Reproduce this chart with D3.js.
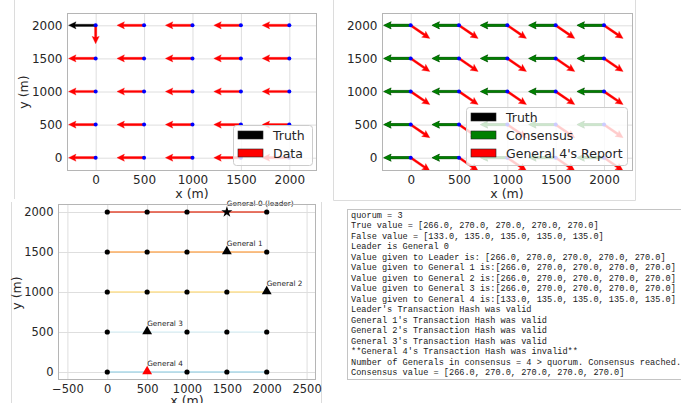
<!DOCTYPE html>
<html>
<head>
<meta charset="utf-8">
<script src="https://cdn.jsdelivr.net/npm/d3@7"></script>
<style>
  body { margin: 0; background: #fff; }
  text { font-family: "DejaVu Sans", sans-serif; fill: #262626; }
  .log text { font-family: "Liberation Mono", monospace; fill: #1a1a1a; white-space: pre; }
</style>
</head>
<body>
<svg id="fig" width="681" height="403"></svg>
<script>
// station grid (m)
const gridX = [0, 500, 1000, 1500, 2000];
const gridY = [0, 500, 1000, 1500, 2000];

// headings in degrees (compass)
const trueValue = [266.0, 270.0, 270.0, 270.0, 270.0];
const falseValue = [133.0, 135.0, 135.0, 135.0, 135.0];
const consensusValue = [266.0, 270.0, 270.0, 270.0, 270.0];

// top-left: one truth arrow + the data headings, one row per gridY
const truthPoint = [0, 2000];
const truthHeading = 270;
const dataHeadings = [
  [270, 270, 270, 270, 270],
  [270, 270, 270, 270, 270],
  [270, 270, 270, 270, 270],
  [270, 270, 270, 270, 270],
  [180, 270, 270, 270, 270]
];
const arrowLen = 280;

// bottom-left: generals
const generalNames = ['General 0 (leader)', 'General 1', 'General 2', 'General 3', 'General 4'];
const generalX = [1500, 1500, 2000, 500, 500];
const generalY = [2000, 1500, 1000, 500, 0];
const quorum = 3;
const inConsensus = 4;

// tick labels
const xTicksTop = [0, 500, 1000, 1500, 2000];
const yTicks = [0, 500, 1000, 1500, 2000];
const xTicksBottom = [-500, 0, 500, 1000, 1500, 2000, 2500];

const rowColors = ['#abd9e9', '#e0f3f8', '#fee090', '#fdae61', '#e34a33'];

const svg = d3.select('#fig');
let clipN = 0;
const tickFmt = d => (d < 0 ? '\u2212' : '') + Math.abs(d);

function panel(o) {
  const x = d3.scaleLinear().domain(o.xd).range([o.l, o.r]);
  const y = d3.scaleLinear().domain(o.yd).range([o.b, o.t]);
  const id = 'clip' + (clipN++);
  svg.append('clipPath').attr('id', id)
    .append('rect').attr('x', o.l).attr('y', o.t).attr('width', o.r - o.l).attr('height', o.b - o.t);

  // grid
  const grid = svg.append('g');
  grid.append('g').attr('transform', `translate(0,${o.b})`)
    .call(d3.axisBottom(x).tickValues(o.xt).tickSize(-(o.b - o.t)).tickFormat(''));
  grid.append('g').attr('transform', `translate(${o.l},0)`)
    .call(d3.axisLeft(y).tickValues(o.yt).tickSize(-(o.r - o.l)).tickFormat(''));
  grid.selectAll('.domain').remove();
  grid.selectAll('line').attr('stroke', '#dedede').attr('stroke-width', 1);

  // tick labels
  const xa = svg.append('g').attr('transform', `translate(0,${o.b})`)
    .call(d3.axisBottom(x).tickValues(o.xt).tickFormat(tickFmt).tickSize(0).tickPadding(4.5));
  const ya = svg.append('g').attr('transform', `translate(${o.l},0)`)
    .call(d3.axisLeft(y).tickValues(o.yt).tickFormat(tickFmt).tickSize(0).tickPadding(4.5));
  [xa, ya].forEach(a => {
    a.select('.domain').remove();
    a.selectAll('text').attr('font-size', o.fs).attr('fill', '#262626')
      .attr('font-family', '"DejaVu Sans", sans-serif');
  });

  const plot = svg.append('g').attr('clip-path', `url(#${id})`);
  return { x, y, plot, o };
}

function frame(p) {
  const o = p.o;
  svg.append('rect').attr('x', o.l + 0.5).attr('y', o.t + 0.5)
    .attr('width', o.r - o.l - 1).attr('height', o.b - o.t - 1)
    .attr('fill', 'none').attr('stroke', '#b5b5b5').attr('stroke-width', 1);
}

function arrow(p, px, py, heading, color) {
  const r = heading * Math.PI / 180;
  const x0 = p.x(px), y0 = p.y(py);
  const x1 = p.x(px + arrowLen * Math.sin(r)), y1 = p.y(py + arrowLen * Math.cos(r));
  const L = Math.hypot(x1 - x0, y1 - y0);
  const ux = (x1 - x0) / L, uy = (y1 - y0) / L, nx = -uy, ny = ux;
  const w = 1.1, hw = 3.6, hl = 7.5, hal = 6.5;
  const pt = (a, b) => [x0 + ux * a + nx * b, y0 + uy * a + ny * b];
  const pts = [pt(0, w), pt(L - hal, w), pt(L - hl, hw), pt(L, 0), pt(L - hl, -hw), pt(L - hal, -w), pt(0, -w)];
  p.plot.append('path').attr('d', 'M' + pts.map(q => q.join(',')).join('L') + 'Z')
    .attr('fill', color).attr('stroke', color).attr('stroke-width', 0.3);
}

function dots(p) {
  gridY.forEach(gy => gridX.forEach(gx => {
    p.plot.append('circle').attr('cx', p.x(gx)).attr('cy', p.y(gy)).attr('r', 2).attr('fill', '#0000ff');
  }));
}

function legend(x, y, w, h, items) {
  const g = svg.append('g');
  g.append('rect').attr('x', x + 0.5).attr('y', y + 0.5).attr('width', w).attr('height', h)
    .attr('rx', 3).attr('fill', '#fff').attr('fill-opacity', 0.8).attr('stroke', '#cccccc');
  items.forEach((it, i) => {
    const cy = y + 10 + i * 18;
    g.append('rect').attr('x', x + 5).attr('y', cy - 4).attr('width', 25).attr('height', 8)
      .attr('fill', it.color).attr('stroke', '#222').attr('stroke-width', 0.6);
    g.append('text').attr('x', x + 40).attr('y', cy + 4.6).attr('font-size', 12.5).text(it.label);
  });
}

function screenEdge(x1, y1, x2, y2) {
  svg.append('line').attr('x1', x1).attr('y1', y1).attr('x2', x2).attr('y2', y2)
    .attr('stroke', '#dcdcdc').attr('stroke-width', 1);
}

// screenshot edges
screenEdge(14.5, 0, 14.5, 199);
screenEdge(333.5, 0, 333.5, 200.5);
screenEdge(635.5, 0, 635.5, 200.5);
screenEdge(333.5, 200.5, 635.5, 200.5);
screenEdge(11.5, 202, 11.5, 403);
screenEdge(321.5, 202, 321.5, 403);

// the arrows on the maps show the agreed (most common) heading
const consensusHeading = d3.mode(consensusValue);
const truthHeadingAll = d3.mode(trueValue);
const reportHeading = d3.mode(falseValue);

// ---- panel 1: truth vs data ----
const p1 = panel({ l: 67, r: 317, t: 13, b: 171, xd: [-296, 2286], yd: [-201, 2186], xt: xTicksTop, yt: yTicks, fs: 12 });
arrow(p1, truthPoint[0], truthPoint[1], truthHeading, '#000');
gridY.forEach((gy, j) => gridX.forEach((gx, i) => arrow(p1, gx, gy, dataHeadings[j][i], '#ff0000')));
dots(p1);
frame(p1);
legend(233, 125, 79, 40, [{ color: '#000', label: 'Truth' }, { color: '#ff0000', label: 'Data' }]);
svg.append('text').attr('x', 192).attr('y', 198).attr('text-anchor', 'middle').attr('font-size', 12.5).text('x (m)');
svg.append('text').attr('transform', 'translate(27.5,92) rotate(-90)').attr('text-anchor', 'middle').attr('font-size', 12.5).text('y (m)');

// ---- panel 2: consensus vs general 4 ----
const p2 = panel({ l: 382, r: 633, t: 13, b: 171, xd: [-297, 2300], yd: [-201, 2186], xt: xTicksTop, yt: yTicks, fs: 12 });
gridY.forEach(gy => gridX.forEach(gx => arrow(p2, gx, gy, truthHeadingAll, '#000')));
gridY.forEach(gy => gridX.forEach(gx => arrow(p2, gx, gy, consensusHeading, '#008000')));
gridY.forEach(gy => gridX.forEach(gx => arrow(p2, gx, gy, reportHeading, '#ff0000')));
dots(p2);
frame(p2);
legend(466, 107, 161, 58, [
  { color: '#000', label: 'Truth' },
  { color: '#008000', label: 'Consensus' },
  { color: '#ff0000', label: "General 4's Report" }
]);
svg.append('text').attr('x', 507).attr('y', 198).attr('text-anchor', 'middle').attr('font-size', 12.5).text('x (m)');
svg.append('clipPath').attr('id', 'ylab2').append('rect').attr('x', 334).attr('y', 0).attr('width', 40).attr('height', 200);
svg.append('text').attr('clip-path', 'url(#ylab2)').attr('transform', 'translate(342.5,92) rotate(-90)')
  .attr('text-anchor', 'middle').attr('font-size', 12.5).text('y (m)');

// ---- panel 3: generals layout ----
const p3 = panel({ l: 58, r: 316, t: 204, b: 380, xd: [-618, 2618], yd: [-100, 2100], xt: xTicksBottom, yt: yTicks, fs: 11.5 });
gridY.forEach((gy, j) => {
  p3.plot.append('path')
    .attr('d', d3.line().x(d => p3.x(d[0])).y(d => p3.y(d[1]))(gridX.map(gx => [gx, gy])))
    .attr('fill', 'none').attr('stroke', rowColors[j]).attr('stroke-width', 1.5);
});
gridY.forEach(gy => gridX.forEach(gx => {
  const isGen = generalX.some((g, k) => g === gx && generalY[k] === gy);
  if (!isGen) p3.plot.append('circle').attr('cx', p3.x(gx)).attr('cy', p3.y(gy)).attr('r', 2.6).attr('fill', '#000');
}));
generalNames.forEach((name, k) => {
  const cx = p3.x(generalX[k]), cy = p3.y(generalY[k]);
  const sym = k === 0 ? d3.symbol(d3.symbolStar, 38) : d3.symbol(d3.symbolTriangle, 42);
  svg.append('path').attr('d', sym()).attr('transform', `translate(${cx},${cy + (k === 0 ? 0 : -0.5)})`)
    .attr('fill', k === 4 ? '#ff0000' : '#000');
  svg.append('text').attr('x', cx).attr('y', cy - 6.5).attr('font-size', 7.3).text(name);
});
frame(p3);
svg.append('text').attr('x', 187).attr('y', 405).attr('text-anchor', 'middle').attr('font-size', 12.5).text('x (m)');
svg.append('text').attr('transform', 'translate(21,293) rotate(-90)').attr('text-anchor', 'middle').attr('font-size', 12.5).text('y (m)');

// ---- console output ----
const list = a => '[' + a.map(v => v.toFixed(1)).join(', ') + ']';
const logLines = [
  `quorum = ${quorum}`,
  `True value = ${list(trueValue)}`,
  `False value = ${list(falseValue)}`,
  'Leader is General 0',
  `Value given to Leader is: ${list(trueValue)}`,
  `Value given to General 1 is:${list(trueValue)}`,
  `Value given to General 2 is:${list(trueValue)}`,
  `Value given to General 3 is:${list(trueValue)}`,
  `Value given to General 4 is:${list(falseValue)}`,
  "Leader's Transaction Hash was valid",
  "General 1's Transaction Hash was valid",
  "General 2's Transaction Hash was valid",
  "General 3's Transaction Hash was valid",
  "**General 4's Transaction Hash was invalid**",
  `Number of Generals in consensus = ${inConsensus} > quorum. Consensus reached.`,
  `Consensus value = ${list(consensusValue)}`
];
const log = svg.append('g').attr('class', 'log');
log.append('rect').attr('x', 347.5).attr('y', 209.5).attr('width', 400).attr('height', 170)
  .attr('fill', '#fff').attr('stroke', '#c4c4c4');
log.selectAll('text.l').data(logLines).join('text').attr('class', 'l')
  .attr('x', 351).attr('y', (d, i) => 218 + i * 10.47).attr('font-size', 8.6).text(d => d);
</script>
</body>
</html>
